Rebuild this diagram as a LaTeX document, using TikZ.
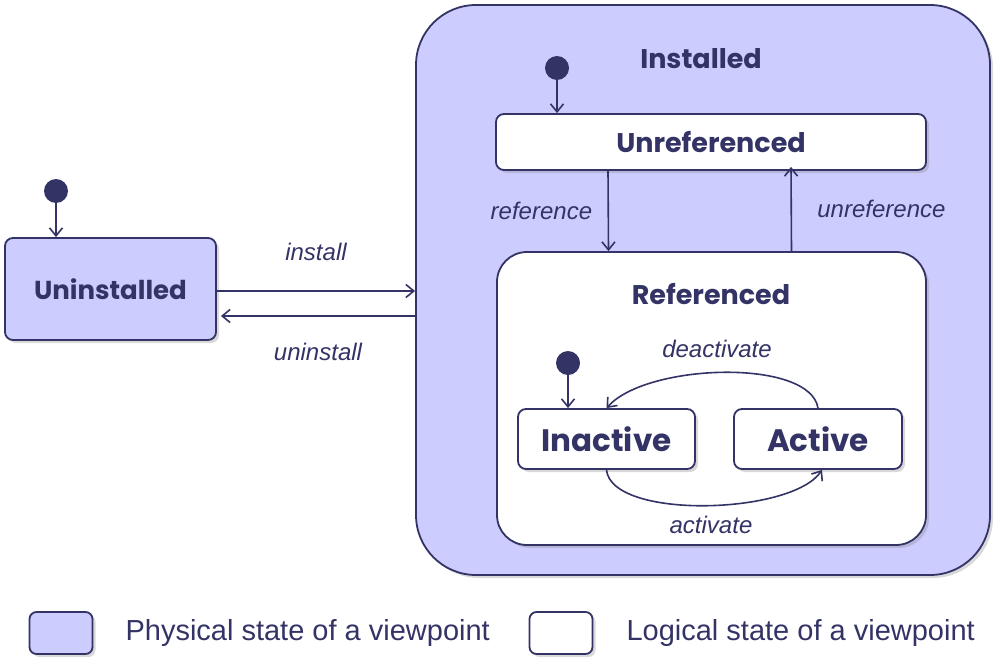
\documentclass[tikz,border=0pt]{standalone}
\usepackage{fontspec}
\setmainfont{Liberation Sans}
\newfontfamily\statefont{Poppins}
\usepackage{xcolor}
\usetikzlibrary{arrows.meta,positioning,shadows}

\definecolor{physfill}{HTML}{CCCCFF}
\definecolor{navy}{HTML}{333366}

\begin{document}
\begin{tikzpicture}[x=1pt,y=-1pt, every node/.style={text=navy},
  state/.style={draw=navy,line width=1.8pt,rounded corners=8pt,fill=white,font=\statefont\bfseries\fontsize{26}{30}\selectfont,drop shadow={shadow xshift=3pt,shadow yshift=-3pt,opacity=0.3}},
  physical/.style={state,fill=physfill},
  initial/.style={circle,fill=navy,minimum size=24pt,inner sep=0pt},
  trans/.style={-{Straight Barb[length=8pt,width=13pt]},draw=navy,line width=1.6pt},
  evt/.style={font=\itshape\fontsize{24}{27}\selectfont},
  title/.style={font=\statefont\bfseries\fontsize{27}{30}\selectfont},
  legendbox/.style={draw=navy,line width=1.8pt,rounded corners=7pt,minimum width=63pt,minimum height=42pt,drop shadow={shadow xshift=3pt,shadow yshift=-3pt,opacity=0.3}},
  legendtext/.style={font=\fontsize{29}{33}\selectfont,anchor=west}]
\useasboundingbox (0,0) rectangle (1003,669);

% physical states
\node[physical,minimum width=211pt,minimum height=102pt] (uninst) at (110.5,289) {Uninstalled};
\node[physical,rounded corners=60pt,minimum width=574pt,minimum height=570pt] (installed) at (703,290) {};
\node[title] (installedlbl) at (701,59) {Installed};

% logical states
\node[state,minimum width=430pt,minimum height=56pt,font=\statefont\bfseries\fontsize{27}{30}\selectfont] (unref) at (711,142) {Unreferenced};
\node[state,rounded corners=30pt,minimum width=429pt,minimum height=293pt] (ref) at (711.5,398.5) {};
\node[title] (reflbl) at (711,294) {Referenced};
\node[state,minimum width=177pt,minimum height=60pt,font=\statefont\bfseries\fontsize{31}{34}\selectfont] (inactive) at (606.5,439) {Inactive};
\node[state,minimum width=168pt,minimum height=60pt,font=\statefont\bfseries\fontsize{31}{34}\selectfont] (active) at (818,439) {Active};

% initial pseudo states
\node[initial] (init1) at (56,191) {};
\node[initial] (init2) at (557,68) {};
\node[initial] (init3) at (568,363) {};
\draw[trans] (init1) -- (uninst.north -| init1);
\draw[trans] (init2) -- (unref.north -| init2);
\draw[trans] (init3) -- (inactive.north -| init3);

% transitions
\draw[trans] ([yshift=-2pt]uninst.east) -- node[evt,above=26pt] (installlbl) {install} ([yshift=-1pt]installed.west);
\draw[trans] ([yshift=-26pt]installed.west) -- node[evt,below=23pt] (uninstalllbl) {uninstall} ([yshift=-27pt,xshift=4pt]uninst.east);
\draw[trans] ([xshift=-103pt]unref.south) -- node[evt,left=12pt] (reflabel) {reference} ([xshift=-103pt]ref.north);
\draw[trans] ([xshift=80pt]ref.north) -- node[evt,right=22pt] (unreflabel) {unreference} ([xshift=80pt,yshift=4pt]unref.south);
\draw[trans] (active.north) .. controls +(-8,-50) and +(40,-45) .. (inactive.north);
\draw[trans] (inactive.south) .. controls +(5,50) and +(-30,45) .. ([xshift=4pt]active.south);
\node[evt] (deactlbl) at (717,349) {deactivate};
\node[evt] (actlbl) at (711,525) {activate};

% legend
\node[legendbox,fill=physfill] (legphys) at (61,633) {};
\node[legendtext] (legphystxt) at (122,633) {Physical state of a viewpoint};
\node[legendbox,fill=white] (leglog) at (561,633) {};
\node[legendtext] (leglogtxt) at (623,633) {Logical state of a viewpoint};
\end{tikzpicture}
\end{document}
